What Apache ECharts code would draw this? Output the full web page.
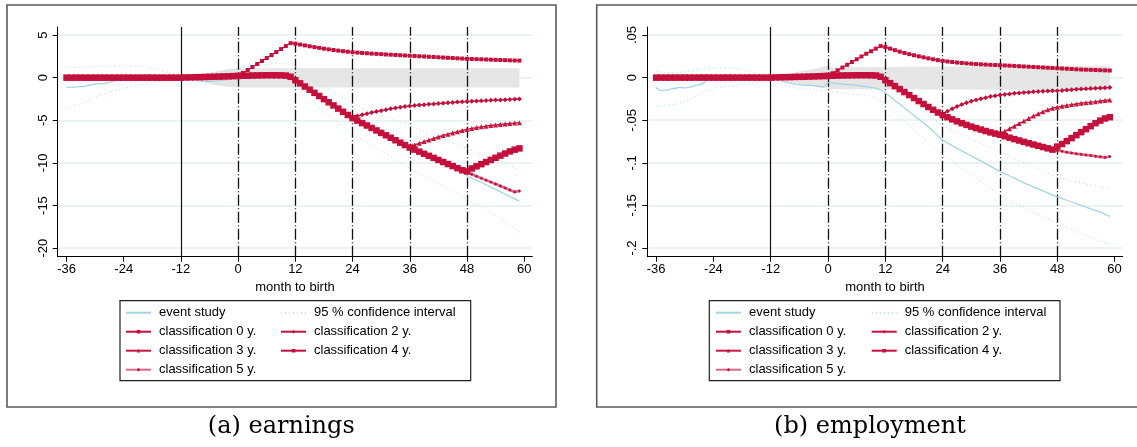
<!DOCTYPE html>
<html><head><meta charset="utf-8">
<script src="https://cdn.jsdelivr.net/npm/echarts@6/dist/echarts.min.js"></script>
<style>html,body{margin:0;padding:0;background:#fff}#c{width:1137px;height:447px}</style>
</head><body><div id="c"></div>
<script>
// ---------- x values ----------
const months = [-36,-35,-34,-33,-32,-31,-30,-29,-28,-27,-26,-25,-24,-23,-22,-21,-20,-19,-18,-17,-16,-15,-14,-13,-12,-11,-10,-9,-8,-7,-6,-5,-4,-3,-2,-1,0,1,2,3,4,5,6,7,8,9,10,11,12,13,14,15,16,17,18,19,20,21,22,23,24,25,26,27,28,29,30,31,32,33,34,35,36,37,38,39,40,41,42,43,44,45,46,47,48,49,50,51,52,53,54,55,56,57,58,59];
const eventMonths = [-36,-35,-34,-33,-32,-31,-30,-29,-28,-27,-26,-25,-24,-23,-22,-21,-20,-19,-18,-17,-16,-15,-14,-13,-12,-9,-6,-3,-1,0,3,6,9,10,11,12,15,18,21,24,27,30,33,36,39,42,45,48,51,54,57,59];
const ciMonths = [-36,-33,-30,-27,-24,-21,-18,-15,-12,-9,-6,-3,0,3,6,9,12,15,18,21,24,27,30,33,36,39,42,45,48,51,54,57,59];
const bandMonths = [-12,-10,-8,-6,-4,-2,-1,0,1,3,59];
const xTicks = [-36,-24,-12,0,12,24,36,48,60];
const refSolid = [-12];
const refDashed = [0,12,24,36,48];

// ---------- (a) earnings ----------
const earnCommon = [0,0,0,0,0,0,0,0,0,0,0,0,0,0,0,0,0,0,0,0,0,0,0,0,0,
  0.02,0.03,0.05,0.06,0.08,0.09,0.11,0.12,0.14,0.16,0.18,
  0.2,0.22,0.23,0.25,0.26,0.27,0.28,0.28,0.28,0.27,0.24,0.1,
  -0.3,-0.67,-1.04,-1.41,-1.78,-2.15,-2.52,-2.89,-3.26,-3.63,-4.0,-4.38,
  -4.75,-5.04,-5.33,-5.61,-5.9,-6.19,-6.48,-6.76,-7.05,-7.34,-7.63,-7.91,
  -8.2,-8.44,-8.68,-8.93,-9.17,-9.41,-9.65,-9.89,-10.13,-10.37,-10.62,-10.86,
  -11.1,-11.33,-11.56,-11.79,-12.02,-12.25,-12.48,-12.71,-12.94,-13.17,-13.4,-13.3];
const earnClass0 = [0.2,0.55,0.9,1.25,1.6,1.95,2.3,2.65,3.0,3.35,3.7,4.05,
  3.98,3.88,3.78,3.68,3.58,3.49,3.4,3.32,3.24,3.17,3.1,3.04,
  2.98,2.94,2.9,2.86,2.82,2.79,2.76,2.72,2.69,2.66,2.63,2.6,
  2.57,2.54,2.51,2.48,2.45,2.42,2.39,2.36,2.33,2.3,2.27,2.24,
  2.21,2.19,2.17,2.15,2.13,2.11,2.09,2.07,2.05,2.03,2.01,2.0];
const earnClass2 = [-4.65,-4.5,-4.36,-4.23,-4.1,-3.98,-3.87,-3.76,-3.66,-3.56,-3.47,-3.39,
  -3.32,-3.27,-3.22,-3.17,-3.12,-3.08,-3.03,-2.99,-2.95,-2.91,-2.87,-2.84,
  -2.81,-2.78,-2.75,-2.72,-2.69,-2.66,-2.63,-2.61,-2.58,-2.55,-2.52,-2.5];
const earnClass3 = [-8.1,-7.9,-7.7,-7.5,-7.32,-7.14,-6.96,-6.79,-6.63,-6.48,-6.34,-6.2,
  -6.07,-5.96,-5.86,-5.77,-5.69,-5.62,-5.55,-5.49,-5.43,-5.38,-5.33,-5.28];
const earnClass4 = [-11.0,-10.65,-10.4,-10.15,-9.9,-9.65,-9.4,-9.15,-8.9,-8.65,-8.45,-8.3];
const earnEvent = [-1.15,-1.12,-1.1,-1.05,-1.0,-0.85,-0.75,-0.68,-0.7,-0.55,-0.4,-0.25,-0.1,0.0,0.1,0.2,0.28,0.3,0.22,0.15,0.1,0.05,0.02,0.0,0.0,
  -0.3,-0.45,-0.3,-0.1,0.05,0.15,0.2,0.2,0.15,0.0,-0.4,-1.5,-2.6,-3.7,-4.8,-5.7,-6.55,-7.4,-8.25,-9.0,-9.75,-10.45,-11.5,-12.3,-13.1,-13.95,-14.5];
const earnCiUp = [1.25,1.2,1.3,1.35,1.38,1.35,1.15,0.6,0,0.25,0.45,0.7,1.0,1.3,1.55,1.68,1.3,0.2,-1.0,-2.1,-3.0,-3.8,-4.4,-5.0,-5.6,-6.3,-7.0,-7.6,-8.3,-9.0,-9.6,-10.3,-10.8];
const earnCiLo = [-3.6,-3.1,-2.3,-1.7,-1.25,-0.9,-0.6,-0.3,0,-0.45,-0.7,-0.8,-0.85,-0.85,-0.85,-0.9,-1.3,-2.7,-4.0,-5.3,-6.5,-7.6,-8.6,-9.6,-10.6,-11.5,-12.4,-13.3,-14.2,-15.2,-16.2,-17.3,-18.1];
const earnBandUp = [0,0.15,0.35,0.55,0.8,1.0,1.05,1.1,1.1,1.1,1.1];
const earnBandLo = [0,-0.2,-0.45,-0.7,-0.95,-1.1,-1.12,-1.15,-1.15,-1.15,-1.15];
const earnYTicks = [-20,-15,-10,-5,0,5];
const earnYLabels = ['-20','-15','-10','-5','0','5'];

// ---------- (b) employment ----------
const empCommon = [0,0,0,0,0,0,0,0,0,0,0,0,0,0,0,0,0,0,0,0,0,0,0,0,0,
  0.0002,0.0004,0.0005,0.0006,0.0008,0.0009,0.001,0.0012,0.0014,0.0016,0.0018,
  0.002,0.0022,0.0024,0.0025,0.0026,0.0027,0.0028,0.0028,0.0028,0.0027,0.0025,0.001,
  -0.003,-0.0065,-0.01,-0.0135,-0.017,-0.0205,-0.024,-0.0275,-0.031,-0.0345,-0.0378,-0.041,
  -0.044,-0.0465,-0.049,-0.0513,-0.0535,-0.0555,-0.0575,-0.0593,-0.061,-0.0627,-0.0643,-0.0657,
  -0.067,-0.0688,-0.0705,-0.0722,-0.0738,-0.0754,-0.077,-0.0785,-0.08,-0.0815,-0.083,-0.0845,
  -0.0855,-0.0865,-0.0875,-0.0884,-0.0893,-0.0901,-0.0908,-0.0915,-0.0922,-0.093,-0.0937,-0.0925];
const empClass0 = [0.002,0.0052,0.0085,0.0118,0.015,0.0183,0.0215,0.0248,0.028,0.031,0.034,0.037,
  0.0358,0.034,0.0322,0.0305,0.0289,0.0275,0.0262,0.025,0.0238,0.0226,0.0215,0.0205,
  0.0196,0.0189,0.0183,0.0177,0.0172,0.0167,0.0163,0.0159,0.0156,0.0153,0.015,0.0148,
  0.0146,0.0143,0.014,0.0137,0.0134,0.0131,0.0128,0.0125,0.0122,0.0119,0.0116,0.0113,
  0.011,0.0107,0.0104,0.0101,0.0098,0.0095,0.0093,0.0091,0.0089,0.0087,0.0085,0.0083];
const empClass2 = [-0.043,-0.0395,-0.0365,-0.0338,-0.0315,-0.0295,-0.0278,-0.0262,-0.0248,-0.0235,-0.0223,-0.0213,
  -0.0204,-0.0197,-0.0191,-0.0185,-0.018,-0.0175,-0.0171,-0.0167,-0.0163,-0.016,-0.0157,-0.0155,
  -0.0153,-0.015,-0.0146,-0.0142,-0.0138,-0.0135,-0.0132,-0.0129,-0.0126,-0.0123,-0.012,-0.0117];
const empClass3 = [-0.066,-0.063,-0.06,-0.057,-0.054,-0.051,-0.048,-0.0452,-0.0425,-0.04,-0.0378,-0.036,
  -0.0347,-0.0336,-0.0326,-0.0317,-0.0309,-0.0301,-0.0294,-0.0288,-0.0282,-0.0275,-0.0268,-0.0262];
const empClass4 = [-0.081,-0.078,-0.0745,-0.071,-0.0675,-0.064,-0.0605,-0.057,-0.0535,-0.0505,-0.048,-0.0465];
const empEvent = [-0.0117,-0.0153,-0.0148,-0.0136,-0.0125,-0.0114,-0.012,-0.0115,-0.0095,-0.0086,-0.0059,-0.0014,0.0,0.0002,0.0004,0.0005,0.0005,0.0004,0.0003,0.0002,0.0001,0,0,0,0,
  -0.005,-0.0085,-0.0095,-0.011,-0.006,-0.0075,-0.009,-0.0115,-0.0125,-0.0145,-0.018,-0.031,-0.0445,-0.058,-0.073,-0.083,-0.092,-0.101,-0.11,-0.118,-0.126,-0.133,-0.14,-0.146,-0.152,-0.158,-0.163];
const empCiUp = [0.007,0.006,0.007,0.0095,0.011,0.011,0.0095,0.005,0,0.002,0.004,0.005,0.005,0.004,0.003,0.001,-0.006,-0.018,-0.031,-0.044,-0.056,-0.064,-0.072,-0.08,-0.087,-0.095,-0.102,-0.109,-0.117,-0.121,-0.125,-0.128,-0.13];
const empCiLo = [-0.034,-0.032,-0.028,-0.02,-0.0125,-0.0105,-0.0085,-0.006,0,-0.009,-0.013,-0.0145,-0.016,-0.018,-0.02,-0.022,-0.03,-0.046,-0.061,-0.076,-0.09,-0.102,-0.114,-0.126,-0.138,-0.147,-0.155,-0.163,-0.171,-0.178,-0.185,-0.192,-0.196];
const empBandUp = [0,0.002,0.0045,0.0075,0.009,0.011,0.013,0.0137,0.012,0.0125,0.0137];
const empBandLo = [0,-0.003,-0.005,-0.0075,-0.0095,-0.011,-0.012,-0.013,-0.0135,-0.0138,-0.0146];
const empYTicks = [-0.2,-0.15,-0.1,-0.05,0,0.05];
const empYLabels = ['-.2','-.15','-.1','-.05','0','.05'];

// ---------- names ----------
const NAME_EVENT = 'event study';
const NAME_CI = '95 % confidence interval';
const NAME_C = ['classification 0 y.','classification 2 y.','classification 3 y.','classification 4 y.','classification 5 y.'];

// ---------- helpers ----------
const pairs = (xs, ys) => xs.map((x, i) => [x, ys[i]]);
const withTail = (common, tail, start) => common.slice(0, months.indexOf(start)).concat(tail);

const FONT = 'Liberation Sans';
const RED = '#c4103c';
const BLUE = '#a3d5e6';
const CIBLUE = '#b5dde9';

function chartSeries(g, d) {
  const ax = {xAxisIndex: g, yAxisIndex: g};
  const s = [];
  // grey band drawn as a polygon through the axis scales
  s.push(Object.assign({type:'custom', name:'band', silent:true, z:1, clip:true,
    data: pairs(bandMonths, d.bandUp),
    renderItem: (params, api) => {
      if (params.dataIndex !== 0) return null;
      const top = bandMonths.map((m, i) => api.coord([m, d.bandUp[i]]));
      const bot = bandMonths.map((m, i) => api.coord([m, d.bandLo[i]])).reverse();
      return {type:'polygon', shape:{points: top.concat(bot)}, style:{fill:'#e6e6e6'}};
    }}, ax));
  s.push(Object.assign({type:'line', name:NAME_CI, data: pairs(ciMonths, d.ciUp), symbol:'none', smooth:0.3,
    lineStyle:{color:CIBLUE, width:1, type:[1,3]}, itemStyle:{color:CIBLUE}, z:6,
    markLine:{silent:true, symbol:['none','none'], label:{show:false}, z:4, animation:false,
      lineStyle:{color:'#111', width:1.3, type:[11,2.5,1,2.5]},
      data: refSolid.map(v => ({xAxis:v, lineStyle:{type:'solid', width:1.2}})).concat(refDashed.map(v => ({xAxis:v})))}}, ax));
  s.push(Object.assign({type:'line', name:NAME_CI, data: pairs(ciMonths, d.ciLo), symbol:'none', smooth:0.3,
    lineStyle:{color:CIBLUE, width:1, type:[1,3]}, itemStyle:{color:CIBLUE}, z:6}, ax));
  s.push(Object.assign({type:'line', name:NAME_EVENT, data: pairs(eventMonths, d.event), symbol:'none', smooth:0.2,
    lineStyle:{color:BLUE, width:1.3}, itemStyle:{color:BLUE}, z:7}, ax));
  const cls = [
    {name:NAME_C[0], vals: withTail(d.common, d.c0, 0), sym:'rect', size:4, color:RED, lw:1.2},
    {name:NAME_C[1], vals: withTail(d.common, d.c2, 24), sym:'diamond', size:5, color:RED, lw:1.2},
    {name:NAME_C[2], vals: withTail(d.common, d.c3, 36), sym:'triangle', size:5, color:'#c8183f', lw:1.4},
    {name:NAME_C[3], vals: withTail(d.common, d.c4, 48), sym:'rect', size:6.5, color:RED, lw:1.4},
    {name:NAME_C[4], vals: d.common, sym:'diamond', size:3.5, color:'rgba(206,40,82,0.7)', lw:2.6, mcol:'#c4103c'}
  ];
  cls.forEach(c => {
    s.push(Object.assign({type:'line', name:c.name, data: pairs(months, c.vals), symbol:c.sym, symbolSize:c.size, showSymbol:true,
      lineStyle:{color:c.color, width:c.lw}, itemStyle:{color:c.mcol || c.color, borderWidth:0}, z:10}, ax));
  });
  return s;
}

const earn = {common:earnCommon, c0:earnClass0, c2:earnClass2, c3:earnClass3, c4:earnClass4, event:earnEvent,
  ciUp:earnCiUp, ciLo:earnCiLo, bandUp:earnBandUp, bandLo:earnBandLo};
const emp = {common:empCommon, c0:empClass0, c2:empClass2, c3:empClass3, c4:empClass4, event:empEvent,
  ciUp:empCiUp, ciLo:empCiLo, bandUp:empBandUp, bandLo:empBandLo};

function xAxis(g) {
  return {type:'value', gridIndex:g, min:-37.85, max:61.7,
    axisLine:{show:true, onZero:false, lineStyle:{color:'#000', width:1}},
    axisTick:{show:true, length:5, customValues:xTicks, lineStyle:{color:'#000'}},
    axisLabel:{customValues:xTicks, fontFamily:FONT, fontSize:13, color:'#000', margin:6},
    splitLine:{show:false},
    name:'month to birth', nameLocation:'middle', nameGap:21,
    nameTextStyle:{fontFamily:FONT, fontSize:13, color:'#000'}};
}
function yAxis(g, min, max, ticks, labels) {
  return {type:'value', gridIndex:g, min:min, max:max,
    axisLine:{show:true, onZero:false, lineStyle:{color:'#000', width:1}},
    axisTick:{show:true, length:5, customValues:ticks, lineStyle:{color:'#000'}},
    axisLabel:{customValues:ticks, rotate:90, fontFamily:FONT, fontSize:13, color:'#000', margin:8,
      formatter: v => { const i = ticks.findIndex(t => Math.abs(t - v) < 1e-9); return i >= 0 ? labels[i] : ''; }},
    splitLine:{show:true, lineStyle:{color:'#e6eff1', width:1.5}}};
}

const noMarker = {itemStyle:{opacity:0}};
const legendBase = {orient:'vertical', top:305.7, itemWidth:25, itemHeight:4.5, itemGap:5, padding:0, selectedMode:false,
  textStyle:{fontFamily:FONT, fontSize:13, color:'#000', lineHeight:14, padding:[0,0,0,3]}};
const col1 = [Object.assign({name:NAME_EVENT}, noMarker), NAME_C[0], NAME_C[2], NAME_C[4]];
const col2 = [Object.assign({name:NAME_CI}, noMarker), NAME_C[1], NAME_C[3]];

const chart = echarts.init(document.getElementById('c'), null, {renderer:'canvas'});
chart.setOption({
  animation:false,
  backgroundColor:'#fff',
  grid:[
    {left:57.7, top:27, width:474.6, height:229.7},
    {left:647.3, top:27, width:475.4, height:229.7}
  ],
  xAxis:[xAxis(0), xAxis(1)],
  yAxis:[yAxis(0, -21.0, 5.94, earnYTicks, earnYLabels), yAxis(1, -0.2102, 0.0594, empYTicks, empYLabels)],
  legend:[
    Object.assign({}, legendBase, {left:125, data:col1}),
    Object.assign({}, legendBase, {left:280, data:col2}),
    Object.assign({}, legendBase, {left:715, data:col1}),
    Object.assign({}, legendBase, {left:870.7, data:col2})
  ],
  graphic:[
    {type:'rect', shape:{x:7, y:5, width:549, height:402}, style:{fill:'none', stroke:'#5a5a5a', lineWidth:1.6}, silent:true, z:-1},
    {type:'rect', shape:{x:596.7, y:5, width:560, height:402}, style:{fill:'none', stroke:'#5a5a5a', lineWidth:1.6}, silent:true, z:-1},
    {type:'rect', shape:{x:120, y:300.7, width:350.7, height:80}, style:{fill:'none', stroke:'#222', lineWidth:1.2}, silent:true},
    {type:'rect', shape:{x:709.3, y:300.7, width:350.7, height:80}, style:{fill:'none', stroke:'#222', lineWidth:1.2}, silent:true},
    {type:'text', x:281.3, y:427, style:{text:'(a) earnings', font:'24px "DejaVu Serif"', fill:'#000', align:'center', verticalAlign:'middle'}, silent:true},
    {type:'text', x:870, y:427, style:{text:'(b) employment', font:'24px "DejaVu Serif"', fill:'#000', align:'center', verticalAlign:'middle'}, silent:true}
  ],
  series: chartSeries(0, earn).concat(chartSeries(1, emp))
});
</script></body></html>
